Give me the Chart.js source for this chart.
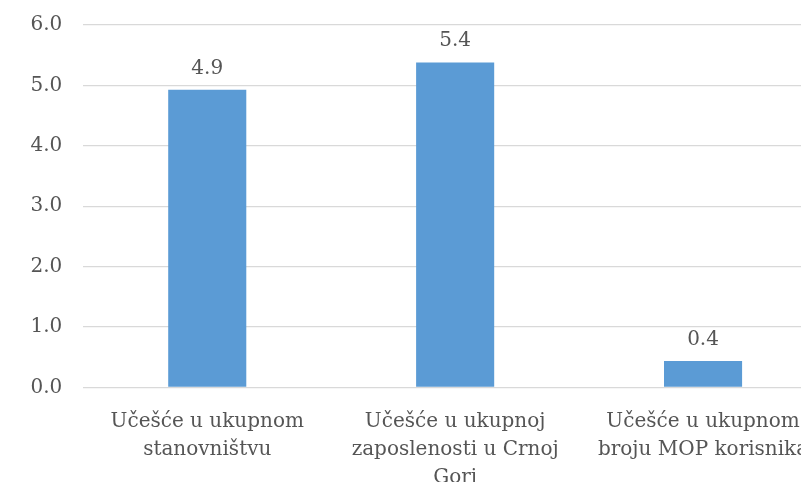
<!DOCTYPE html>
<html>
<head>
<meta charset="utf-8">
<script src="https://cdn.jsdelivr.net/npm/chart.js@4/dist/chart.umd.min.js"></script>
<style>
  html, body { margin: 0; padding: 0; background: #fff; }
  #wrap { width: 801px; height: 482px; overflow: hidden; position: relative; }
  canvas { display: block; }
</style>
</head>
<body>
<div id="wrap">
  <canvas id="shareChart" width="830" height="500"></canvas>
</div>
<script>
// data
const categories = [
    ['Učešće u ukupnom', 'stanovništvu'],
    ['Učešće u ukupnoj', 'zaposlenosti u Crnoj', 'Gori'],
    ['Učešće u ukupnom', 'broju MOP korisnika'],
];
const shareValues = [4.93, 5.38, 0.44];
const yTicks = [0, 1, 2, 3, 4, 5, 6];

const textColor = '#555555';
const gridColor = '#d9d9d9';
const fontFamily = '"DejaVu Serif", serif';

// value labels above each bar
const barLabels = {
    id: 'barLabels',
    afterDatasetsDraw(chart) {
        const ctx = chart.ctx;
        const meta = chart.getDatasetMeta(0);
        ctx.save();
        ctx.fillStyle = textColor;
        ctx.font = '20px ' + fontFamily;
        ctx.textAlign = 'center';
        ctx.textBaseline = 'alphabetic';
        meta.data.forEach((bar, i) => {
            const v = chart.data.datasets[0].data[i];
            ctx.fillText(v.toFixed(1), bar.x, bar.y - 16);
        });
        ctx.restore();
    }
};

const ctx = document.getElementById('shareChart').getContext('2d');
new Chart(ctx, {
    type: 'bar',
    data: {
        labels: categories,
        datasets: [{
            data: shareValues,
            backgroundColor: '#5b9bd5',
            borderWidth: 0,
            categoryPercentage: 1,
            barPercentage: 0.315,
        }],
    },
    options: {
        responsive: false,
        animation: false,
        layout: { padding: { top: 25, right: 3, left: 0, bottom: 0 } },
        plugins: {
            legend: { display: false },
            tooltip: { enabled: false },
        },
        scales: {
            x: {
                grid: { display: false, drawTicks: false },
                border: { display: false },
                ticks: {
                    color: textColor,
                    font: { family: fontFamily, size: 20, lineHeight: 1.4 },
                    padding: 20,
                    maxRotation: 0,
                    autoSkip: false,
                },
                afterFit(scale) { scale.height = 112.5; },
            },
            y: {
                min: 0,
                max: 6,
                afterBuildTicks(scale) {
                    scale.ticks = yTicks.map(v => ({ value: v }));
                },
                grid: { color: gridColor, lineWidth: 1.3, drawTicks: false },
                border: { display: false },
                ticks: {
                    color: textColor,
                    font: { family: fontFamily, size: 20 },
                    padding: 21,
                    callback: v => v.toFixed(1),
                },
                afterFit(scale) {
                    scale.width = 83.3;
                    // tick padding should not push the plot down
                    scale.paddingTop = 0;
                    scale.paddingBottom = 0;
                },
            },
        },
    },
    plugins: [barLabels],
});
</script>
</body>
</html>
